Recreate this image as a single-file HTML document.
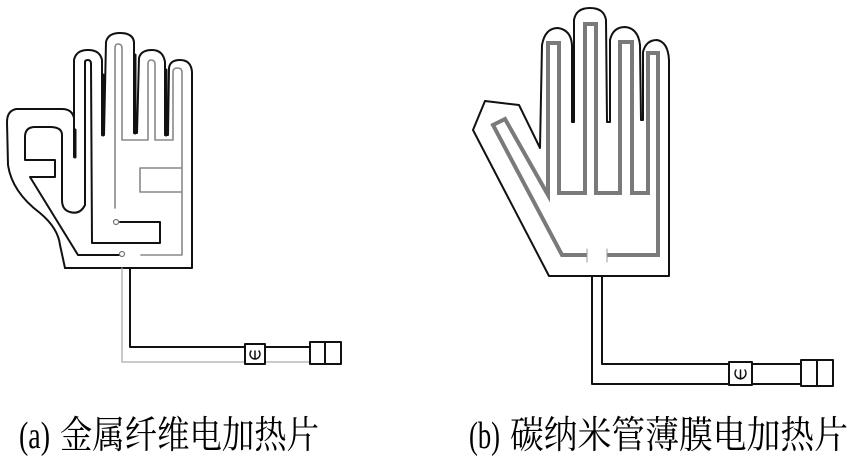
<!DOCTYPE html>
<html><head><meta charset="utf-8"><style>
html,body{margin:0;padding:0;background:#fff;}
svg{display:block;}
text{font-family:"Liberation Serif","Noto Serif CJK SC","Noto Sans CJK SC",serif;font-size:38px;fill:#000;}
</style></head><body>
<svg width="850" height="456" viewBox="0 0 850 456" xmlns="http://www.w3.org/2000/svg">
<g fill="none" stroke-linejoin="round" stroke-linecap="round">
<path stroke="#111" stroke-width="2" d="M65,268 L192,268 L192,72 Q191,60 180,60 Q170,60 169,68 L168,135 L165,135 L165,62 Q163,50 152,50 Q141,50 139,58 L137,133 L134,133 L134,42 Q133,33 120,33 Q108,33 106,42 L104,135 L102,135 L102,60 Q100,50 88,50 Q76,50 74,60 L74,157"/>
<path stroke="#111" stroke-width="2" d="M74,118 Q72,109 62,109 L16,109 Q7,111 7,122 L8,165 Q12,192 40,213 Q58,228 60,245 L65,268"/>
<path stroke="#111" stroke-width="3" d="M103,75 L103,135 M135,55 L135,133 M166,70 L166,135 M75,130 L75,157"/>
<path stroke="#111" stroke-width="2" d="M85,62 Q85,60 88,60 Q91,60 91,64 L92,243 L160,243 L160,222 L120,222"/>
<path stroke="#111" stroke-width="2" d="M85,62 L85,205 Q80,215 70,212 Q62,210 62,200 L62,135 Q62,127 50,127 L35,127 Q25,127 25,137 L25,160 L55,160 L55,177 L30,177 L78,255 L119,255"/>
<circle cx="116" cy="222" r="2.5" stroke="#777" stroke-width="1.2" fill="#fff"/>
<circle cx="122" cy="254" r="2.5" stroke="#777" stroke-width="1.2" fill="#fff"/>
<path stroke="#888" stroke-width="1.6" d="M115,208 L115,48 Q115,44 118,44 Q122,44 122,48 L122,140 L148,140 L148,64 Q148,60 151,60 Q155,60 155,64 L155,140 L173,140 L173,72 Q173,68 177,68 Q182,68 182,72 L182,192 L140,192 L140,168 L182,168 L182,255 L141,255"/>
<path stroke="#111" stroke-width="2" d="M130,268 L130,347 L245,347 M265,347 L310,347"/>
<path stroke="#aaa" stroke-width="1.3" d="M122,268 L122,362 L245,362 M265,362 L310,362"/>
<rect x="245" y="344" width="20" height="20" stroke="#111" stroke-width="2"/>
<path stroke="#111" stroke-width="1.5" d="M251,351 A5,5 0 1 0 259,351 M255,351 L255,359"/>
<rect x="310" y="342" width="31" height="22" stroke="#111" stroke-width="2"/>
<path stroke="#111" stroke-width="2" d="M325,342 L325,364"/>

<path stroke="#111" stroke-width="2" d="M473,130 L485,101 L519,105 L540,148 L542,45 Q545,28 558,28 Q571,30 572,45 L572,122 L574,122 L574,20 Q576,8 590,8 Q604,8 606,20 L607,122 L610,122 L610,40 Q613,27 625,27 Q638,28 640,45 L641,120 L643,120 L643,52 Q646,40 657,40 Q668,42 669,60 L669,276 L549,276 Z"/>
<path stroke="#7a7a7a" stroke-width="4" stroke-linejoin="miter" stroke-linecap="butt" d="M587,255 L562,255 L493,125 L505,119 L548,195 L548,43 L559,43 L559,193 L585,193 L585,24 L596,24 L596,193 L620,193 L620,42 L632,42 L632,193 L648,193 L648,53 L658,53 L658,255 L607,255"/>
<path stroke="#999" stroke-width="1" d="M587,249 L587,262 M607,249 L607,262"/>
<path stroke="#111" stroke-width="2" d="M592,276 L592,384 L729,384 M602,276 L602,364 L729,364 M752,364 L801,364 M752,384 L801,384"/>
<rect x="729" y="362" width="23" height="23" stroke="#111" stroke-width="2"/>
<path stroke="#111" stroke-width="1.5" d="M736,370 A5.5,5.5 0 1 0 745,370 M740.5,370 L740.5,379"/>
<rect x="801" y="360" width="32" height="26" stroke="#111" stroke-width="2"/>
<path stroke="#111" stroke-width="2" d="M817,360 L817,386"/>
</g>
<text x="19" y="448" textLength="31" lengthAdjust="spacingAndGlyphs">(a)</text>
<text x="60" y="448" textLength="259" lengthAdjust="spacingAndGlyphs">金属纤维电加热片</text>
<text x="469" y="448" textLength="31" lengthAdjust="spacingAndGlyphs">(b)</text>
<text x="510" y="448" textLength="338" lengthAdjust="spacingAndGlyphs">碳纳米管薄膜电加热片</text>
</svg>
</body></html>
